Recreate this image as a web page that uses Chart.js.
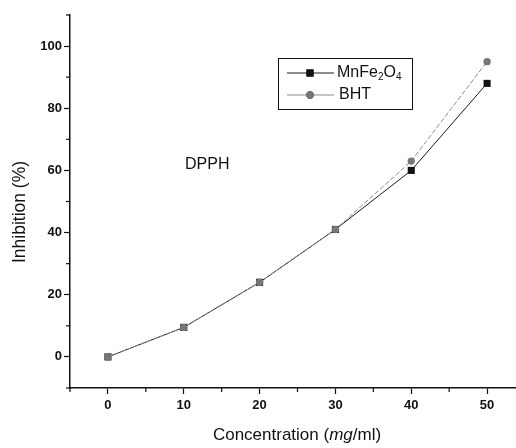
<!DOCTYPE html>
<html>
<head>
<meta charset="utf-8">
<script src="https://cdn.jsdelivr.net/npm/chart.js@4/dist/chart.umd.min.js"></script>
<style>
    body { margin: 0; overflow: hidden; background: #fff; }
</style>
</head>
<body>
<canvas id="dpphChart" width="530" height="448"></canvas>
<script>
// data
const concentrations = [0, 10, 20, 30, 40, 50];
const mnfe2o4Values = [0, 9.5, 24, 41, 60, 88];
const bhtValues = [0, 9.5, 24, 41, 63, 95];
const xTickLabels = [0, 10, 20, 30, 40, 50];
const yTickLabels = [0, 20, 40, 60, 80, 100];
const xMinorTicks = [-5, 5, 15, 25, 35, 45, 55];
const yMinorTicks = [-10, 10, 30, 50, 70, 90, 110];

const fontFamily = "'Liberation Sans', Arial, sans-serif";
const ink = '#111';

function toPoints(values) {
    return concentrations.map((c, i) => ({ x: c, y: values[i] }));
}

// minor ticks, legend box and the free texts
const extrasPlugin = {
    id: 'extras',
    afterDraw(chart) {
        const ctx = chart.ctx;
        const xs = chart.scales.x;
        const ys = chart.scales.y;
        const area = chart.chartArea;
        ctx.save();
        ctx.strokeStyle = ink;
        ctx.lineWidth = 1.2;
        xMinorTicks.forEach(v => {
            const px = xs.getPixelForValue(v);
            ctx.beginPath();
            ctx.moveTo(px, area.bottom);
            ctx.lineTo(px, area.bottom + 4);
            ctx.stroke();
        });
        yMinorTicks.forEach(v => {
            const py = ys.getPixelForValue(v);
            ctx.beginPath();
            ctx.moveTo(area.left, py);
            ctx.lineTo(area.left - 4, py);
            ctx.stroke();
        });

        // legend
        ctx.lineWidth = 1;
        ctx.strokeRect(278.5, 58.5, 134, 51);
        const rows = [{ ds: chart.data.datasets[0], y: 73 }, { ds: chart.data.datasets[1], y: 95 }];
        rows.forEach(r => {
            ctx.strokeStyle = r.ds.borderColor;
            ctx.lineWidth = 1;
            ctx.setLineDash([]);
            ctx.beginPath();
            ctx.moveTo(287, r.y);
            ctx.lineTo(334, r.y);
            ctx.stroke();
            Chart.helpers.drawPoint(ctx, {
                pointStyle: r.ds.pointStyle,
                radius: r.ds.pointRadius,
                rotation: 0,
                borderWidth: 0
            }, 310, r.y);
            ctx.fillStyle = r.ds.pointBackgroundColor;
            ctx.fill();
        });

        ctx.fillStyle = ink;
        ctx.textBaseline = 'middle';
        ctx.textAlign = 'left';
        let tx = 337;
        const parts = [['MnFe', 0, 16], ['2', 4, 10], ['O', 0, 16], ['4', 4, 10]];
        parts.forEach(p => {
            ctx.font = p[2] + 'px ' + fontFamily;
            ctx.fillText(p[0], tx, 73 + p[1]);
            tx += ctx.measureText(p[0]).width;
        });
        ctx.font = '16px ' + fontFamily;
        ctx.fillText('BHT', 339, 95);

        ctx.fillText('DPPH', 185, 165);

        // x axis title with italic "mg"
        const xt = [['Concentration (', 'normal'], ['mg', 'italic'], ['/ml)', 'normal']];
        let total = 0;
        xt.forEach(p => {
            ctx.font = p[1] + ' 17px ' + fontFamily;
            total += ctx.measureText(p[0]).width;
        });
        let cx = 297 - total / 2;
        xt.forEach(p => {
            ctx.font = p[1] + ' 17px ' + fontFamily;
            ctx.fillText(p[0], cx, 435);
            cx += ctx.measureText(p[0]).width;
        });

        // y axis title
        ctx.translate(20, 212);
        ctx.rotate(-Math.PI / 2);
        ctx.textAlign = 'center';
        ctx.font = '17.5px ' + fontFamily;
        ctx.fillText('Inhibition (%)', 0, 0);
        ctx.restore();
    }
};

new Chart(document.getElementById('dpphChart'), {
    type: 'line',
    data: {
        datasets: [
            {
                label: 'MnFe2O4',
                data: toPoints(mnfe2o4Values),
                borderColor: '#1a1a1a',
                borderWidth: 1,
                pointStyle: 'rect',
                pointRadius: 5,
                pointBackgroundColor: '#111',
                pointBorderWidth: 0,
                order: 1
            },
            {
                label: 'BHT',
                data: toPoints(bhtValues),
                borderColor: '#8a8a8a',
                borderWidth: 1,
                borderDash: [5, 2],
                pointStyle: 'circle',
                pointRadius: 3.7,
                pointBackgroundColor: '#777',
                pointBorderWidth: 0,
                order: 0
            }
        ]
    },
    options: {
        responsive: false,
        animation: false,
        layout: { padding: { top: 15, right: 2, left: 0, bottom: 0 } },
        plugins: {
            legend: { display: false },
            tooltip: { enabled: false }
        },
        scales: {
            x: {
                type: 'linear',
                min: -5,
                max: 55,
                afterBuildTicks: scale => { scale.ticks = xTickLabels.map(v => ({ value: v })); },
                afterFit: scale => { scale.height = 60; },
                grid: { drawOnChartArea: false, tickLength: 6, tickColor: ink, tickWidth: 1.2 },
                border: { color: ink, width: 1.5 },
                ticks: {
                    color: ink,
                    padding: 4,
                    maxRotation: 0,
                    font: { family: fontFamily, size: 13, weight: 'bold' }
                }
            },
            y: {
                type: 'linear',
                min: -10,
                max: 110,
                afterBuildTicks: scale => { scale.ticks = yTickLabels.map(v => ({ value: v })); },
                afterFit: scale => { scale.width = 70; },
                grid: { drawOnChartArea: false, tickLength: 6, tickColor: ink, tickWidth: 1.2 },
                border: { color: ink, width: 1.5 },
                ticks: {
                    color: ink,
                    padding: 2,
                    font: { family: fontFamily, size: 13, weight: 'bold' }
                }
            }
        }
    },
    plugins: [extrasPlugin]
});
</script>
</body>
</html>
